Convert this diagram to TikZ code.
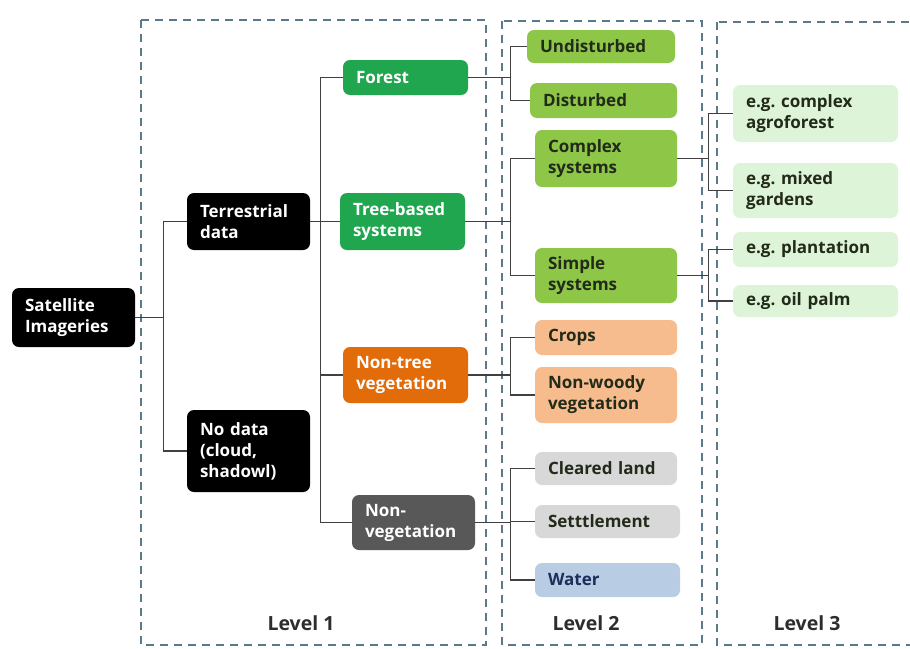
\documentclass[tikz,border=0pt]{standalone}
\usepackage{fontspec}
\setmainfont{Open Sans}
\usepackage{tikz}
\frenchspacing
\definecolor{forestc}{RGB}{32,166,78}
\definecolor{orangec}{RGB}{226,107,10}
\definecolor{grayc}{RGB}{88,88,88}
\definecolor{limec}{RGB}{142,199,72}
\definecolor{peachc}{RGB}{247,188,142}
\definecolor{greyc}{RGB}{216,216,216}
\definecolor{bluec}{RGB}{184,204,228}
\definecolor{mintc}{RGB}{221,244,216}
\definecolor{txtc}{RGB}{34,42,26}
\definecolor{navyc}{RGB}{28,46,90}
\definecolor{linec}{RGB}{64,64,64}
\definecolor{framec}{RGB}{90,122,140}
\definecolor{lvlc}{RGB}{45,45,45}

\begin{document}
\begin{tikzpicture}[x=1pt,y=-1pt, every node/.style={font=\bfseries\fontsize{17}{21}\selectfont}, box/.style={rounded corners=7pt,inner xsep=13pt,inner ysep=0pt,align=left}, dark/.style={box,fill=#1,text=white}, pale/.style={box,fill=#1,text=txtc}, frame/.style={draw=framec,line width=1.6pt,dash pattern=on 8pt off 6pt}, ln/.style={draw=linec,line width=1.1pt}, lvl/.style={font=\bfseries\fontsize{19.5}{22}\selectfont,text=lvlc}]
\fill[white] (0,0) rectangle (910,648);
\useasboundingbox (0,0) rectangle (910,648);
\draw[frame] (141,20) rectangle (486,645);
\draw[frame] (502,21) rectangle (702,645);
\draw[frame] (717,22) rectangle (925,645);
\node[dark=black,text width=97pt,minimum height=59pt] (sat) at (73.5,317.5) {Satellite\\Imageries};
\node[dark=black,text width=97pt,minimum height=57pt] (terr) at (248.5,221.5) {Terrestrial\\data};
\node[dark=black,text width=97pt,minimum height=82pt] (nodata) at (248.5,451) {No data\\(cloud,\\shadowl)};
\node[dark=forestc,text width=99pt,minimum height=35pt] (forest) at (405.5,77.5) {Forest};
\node[dark=forestc,text width=99pt,minimum height=57pt] (treeb) at (402.5,221.5) {Tree-based\\systems};
\node[dark=orangec,text width=99pt,minimum height=56pt] (nontree) at (405.5,375) {Non-tree\\vegetation};
\node[dark=grayc,text width=97pt,minimum height=55pt] (nonveg) at (413.5,522.5) {Non-\\vegetation};
\node[pale=limec,text width=122pt,minimum height=33pt] (undist) at (601,46.5) {Undisturbed};
\node[pale=limec,text width=121pt,minimum height=35pt] (dist) at (603.5,100.5) {Disturbed};
\node[pale=limec,text width=116pt,minimum height=57pt] (cplx) at (606,158.5) {Complex\\systems};
\node[pale=limec,text width=116pt,minimum height=55pt] (simple) at (606,275.5) {Simple\\systems};
\node[pale=peachc,text width=116pt,minimum height=35pt] (crops) at (606,337.5) {Crops};
\node[pale=peachc,text width=116pt,minimum height=56pt] (nonwoody) at (606,395) {Non-woody\\vegetation};
\node[pale=greyc,text width=116pt,minimum height=33pt] (cleared) at (606,468.5) {Cleared land};
\node[pale=greyc,text width=119pt,minimum height=33pt] (settle) at (607.5,521.5) {Setttlement};
\node[pale=bluec,text=navyc,text width=119pt,minimum height=34pt] (water) at (607.5,580) {Water};
\node[pale=mintc,text width=139pt,minimum height=57pt] (agro) at (815.5,113.5) {e.g. complex\\agroforest};
\node[pale=mintc,text width=139pt,minimum height=55pt] (mixed) at (815.5,190.5) {e.g. mixed\\gardens};
\node[pale=mintc,text width=139pt,minimum height=35pt] (plant) at (815.5,249.5) {e.g. plantation};
\node[pale=mintc,text width=139pt,minimum height=32pt] (palm) at (815.5,301) {e.g. oil palm};
\node[lvl] (lv1) at (301,623) {Level 1};
\node[lvl] (lv2) at (586,623) {Level 2};
\node[lvl] (lv3) at (807,623) {Level 3};
\draw[ln] (sat.east) -- ++(28,0) coordinate (j0) |- (terr.west); \draw[ln] (j0) |- (nodata.west);
\draw[ln] (terr.east) -- ++(10,0) coordinate (j1) |- (forest.west); \draw[ln] (j1) |- (treeb.west); \draw[ln] (j1) |- (nontree.west); \draw[ln] (j1) |- (nonveg.west);
\draw[ln] (forest.east) -- ++(42,0) coordinate (j2) |- (undist.west); \draw[ln] (j2) |- (dist.west);
\draw[ln] (treeb.east) -- ++(45,0) coordinate (j3) |- (cplx.west); \draw[ln] (j3) |- (simple.west);
\draw[ln] (nontree.east) -- ++(42,0) coordinate (j4) |- (crops.west); \draw[ln] (j4) |- (nonwoody.west);
\draw[ln] (nonveg.east) -- ++(35,0) coordinate (j5) |- (cleared.west); \draw[ln] (j5) |- (settle.west); \draw[ln] (j5) |- (water.west);
\draw[ln] (cplx.east) -- ++(31,0) coordinate (j6) |- (agro.west); \draw[ln] (j6) |- (mixed.west);
\draw[ln] (simple.east) -- ++(31,0) coordinate (j7) |- (plant.west); \draw[ln] (j7) |- (palm.west);
\end{tikzpicture}
\end{document}
